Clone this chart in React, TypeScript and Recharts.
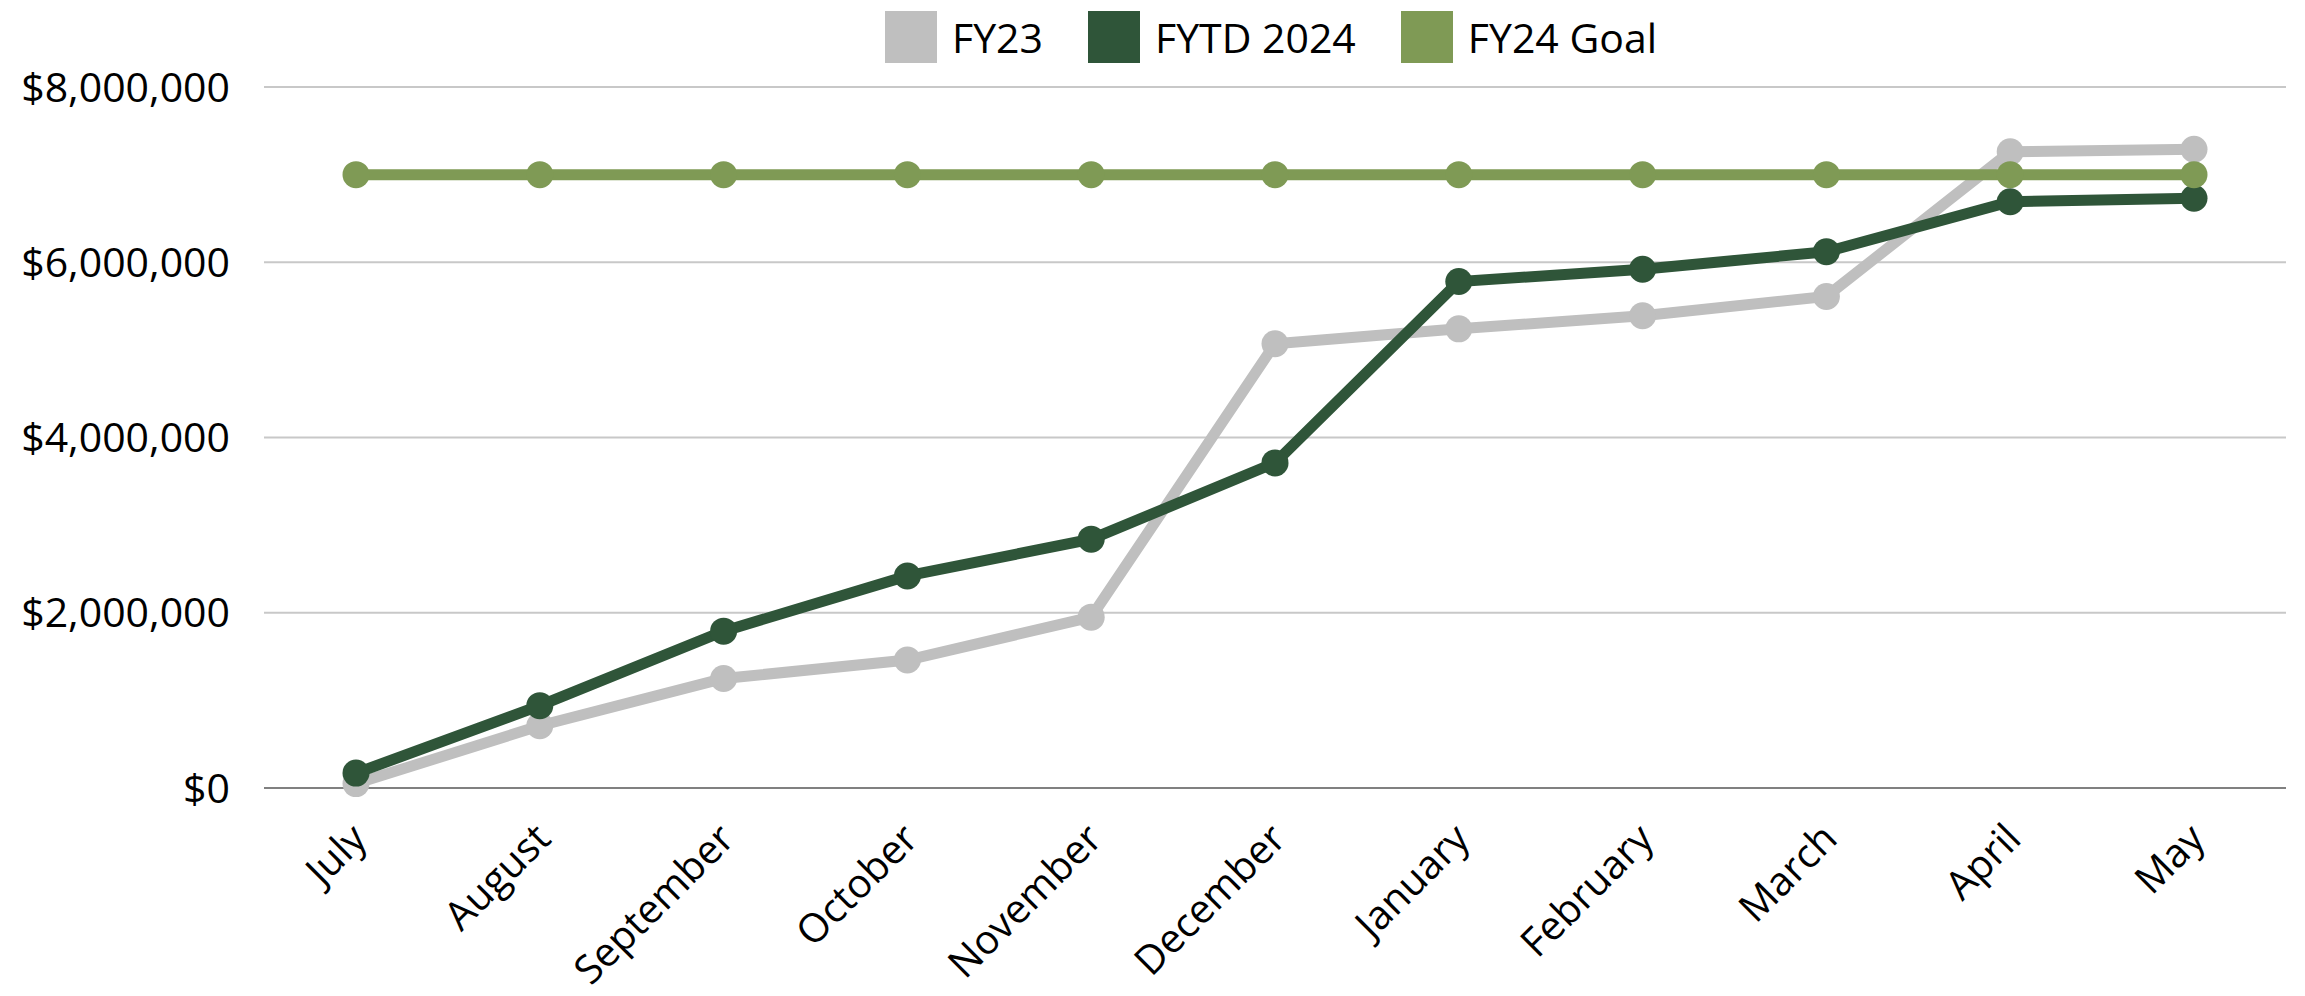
import React from 'react';
import { ComposedChart, Line, XAxis, YAxis, CartesianGrid, Legend } from 'recharts';

const months = ['July', 'August', 'September', 'October', 'November', 'December', 'January', 'February', 'March', 'April', 'May'];
const fy23 = [50000, 710000, 1250000, 1460000, 1950000, 5070000, 5240000, 5390000, 5610000, 7260000, 7290000];
const fytd2024 = [170000, 940000, 1790000, 2420000, 2840000, 3710000, 5780000, 5920000, 6120000, 6690000, 6730000];
const fy24Goal = [7000000, 7000000, 7000000, 7000000, 7000000, 7000000, 7000000, 7000000, 7000000, 7000000, 7000000];
const yTicks = [0, 2000000, 4000000, 6000000, 8000000];
const seriesNames = ['FY23', 'FYTD 2024', 'FY24 Goal'];
const seriesColors = ['#bfbfbf', '#2f5539', '#7f9a55'];

const data = months.map((m, i) => ({ month: m, fy23: fy23[i], fytd2024: fytd2024[i], goal: fy24Goal[i] }));
const keys = ['fy23', 'fytd2024', 'goal'];

const FONT = '"Open Sans", "DejaVu Sans", sans-serif';

const fmt = (v: number) => '$' + v.toLocaleString('en-US');

const XTick = (props: any) => {
  const { x, y, payload } = props;
  const ax = x + 13;
  const ay = y + 53;
  return (
    <text x={ax} y={ay} textAnchor="end" transform={`rotate(-45, ${ax}, ${ay})`} fontSize={40} fontFamily={FONT} fill="#000">
      {payload.value}
    </text>
  );
};

const LegendContent = () => (
  <div style={{ display: 'flex', alignItems: 'center', fontFamily: FONT, fontSize: 41, color: '#000', whiteSpace: 'nowrap' }}>
    {seriesNames.map((n, i) => (
      <div key={n} style={{ display: 'flex', alignItems: 'center', marginRight: i < seriesNames.length - 1 ? 45 : 0 }}>
        <div style={{ width: 52, height: 52, background: seriesColors[i], marginRight: 15 }} />
        <span>{n}</span>
      </div>
    ))}
  </div>
);

export default function App() {
  return (
    <div style={{ position: 'absolute', left: 0, top: 0, width: 2305, height: 996, background: '#fff' }}>
      <ComposedChart width={2305} height={996} data={data} margin={{ top: 87, right: 19, bottom: 0, left: 0 }}>
        <CartesianGrid vertical={false} stroke="#c8c8c8" strokeWidth={2} />
        <XAxis
          dataKey="month"
          height={208}
          padding={{ left: 92, right: 92 }}
          tickLine={false}
          tickSize={0}
          tickMargin={0}
          axisLine={{ stroke: '#808080', strokeWidth: 2 }}
          tick={<XTick />}
          interval={0}
        />
        <YAxis
          width={264}
          domain={[0, 8000000]}
          ticks={yTicks}
          tickFormatter={fmt}
          axisLine={false}
          tickLine={false}
          tickSize={0}
          tickMargin={34}
          tick={{ fontSize: 41, fill: '#000', fontFamily: FONT }}
        />
        <Legend
          verticalAlign="middle"
          layout="horizontal"
          content={<LegendContent />}
          wrapperStyle={{ position: 'absolute', top: 9, left: 885, width: 'auto', height: 52 }}
        />
        {keys.map((k, i) => (
          <Line
            key={k}
            dataKey={k}
            name={seriesNames[i]}
            type="linear"
            stroke={seriesColors[i]}
            strokeWidth={11}
            dot={{ r: 13.5, fill: seriesColors[i], stroke: seriesColors[i], strokeWidth: 0 }}
            activeDot={false}
            isAnimationActive={false}
          />
        ))}
      </ComposedChart>
    </div>
  );
}
